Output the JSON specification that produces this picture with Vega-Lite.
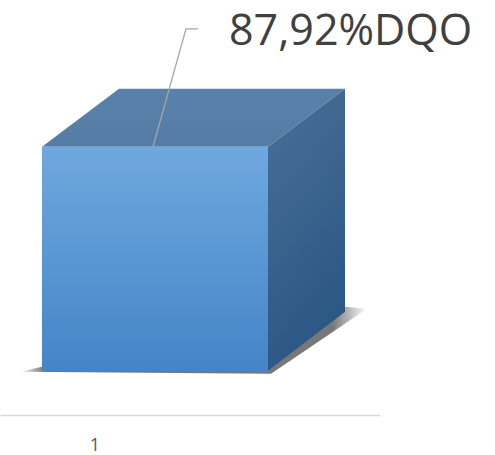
{
  "$schema": "https://vega.github.io/schema/vega-lite/v6.json",
  "width": 495,
  "height": 415,
  "autosize": {"type": "none"},
  "padding": {"left": 0, "top": 0, "right": 0, "bottom": 40},
  "background": "white",
  "config": {"view": {"stroke": null}},
  "data": {"values": [{"categoria": "1", "valor": 87.92, "rotulo": "87,92%DQO"}]},
  "encoding": {
    "x": {
      "field": "categoria", "type": "nominal",
      "scale": {"range": [0, 380], "paddingInner": 0, "paddingOuter": 0.3407, "align": 0.2727},
      "axis": {"title": null, "ticks": false, "domainColor": "#d9d9d9", "domainWidth": 1.5, "labelFont": "Open Sans", "labelFontSize": 18, "labelColor": "#595959", "labelAngle": 0, "labelOffset": -60, "labelBaseline": "alphabetic", "labelPadding": 35}
    },
    "y": {
      "field": "valor", "type": "quantitative",
      "scale": {"domain": [0, 100], "range": [371, 116], "zero": true, "nice": false},
      "axis": null
    }
  },
  "layer": [
    {
      "mark": {"type": "point", "shape": "M -2.7,4.5 L 2.32,4.54 L 4.24,3.24 L 3.8,3.2 L 2.26,4.4 L -2.26,4.4 Z", "size": 10000, "filled": true, "strokeWidth": 0, "opacity": 0.7,
        "fill": {"gradient": "linear", "x1": 0, "y1": 0, "x2": 1, "y2": 0, "stops": [{"offset": 0, "color": "rgba(40,40,40,0)"}, {"offset": 0.07, "color": "rgba(40,40,40,0.9)"}, {"offset": 0.9, "color": "rgba(40,40,40,0.9)"}, {"offset": 1, "color": "rgba(40,40,40,0)"}]}}
    },
    {
      "mark": {"type": "point", "shape": "M -2.26,0 L -0.72,-1.16 L 3.8,-1.16 L 2.26,0 Z", "size": 10000, "filled": true, "strokeWidth": 0, "opacity": 1,
        "fill": {"gradient": "linear", "x1": 0, "y1": 0, "x2": 0, "y2": 1, "stops": [{"offset": 0, "color": "#5a81aa"}, {"offset": 1, "color": "#557ca5"}]}}
    },
    {
      "mark": {"type": "point", "shape": "M 2.26,0 L 3.8,-1.16 L 3.8,3.3 L 2.26,4.48 Z", "size": 10000, "filled": true, "strokeWidth": 0, "opacity": 1,
        "fill": {"gradient": "linear", "x1": 0, "y1": 0, "x2": 0.3, "y2": 1, "stops": [{"offset": 0, "color": "#4a6f96"}, {"offset": 1, "color": "#2b5785"}]}}
    },
    {
      "mark": {"type": "bar",
        "fill": {"gradient": "linear", "x1": 0, "y1": 0, "x2": 0, "y2": 1, "stops": [{"offset": 0, "color": "#6fa8de"}, {"offset": 1, "color": "#4484c8"}]}}
    },
    {
      "mark": {"type": "point", "shape": "M -0.04,0 L 0.62,-2.36 L 0.86,-2.36", "size": 10000, "filled": false, "fill": null, "stroke": "#a6a6a6", "strokeWidth": 1.3, "opacity": 1}
    },
    {
      "mark": {"type": "text", "align": "left", "baseline": "alphabetic", "dx": 74, "dy": -102, "font": "Open Sans", "fontSize": 43, "color": "#404040"},
      "encoding": {"text": {"field": "rotulo"}}
    }
  ]
}
